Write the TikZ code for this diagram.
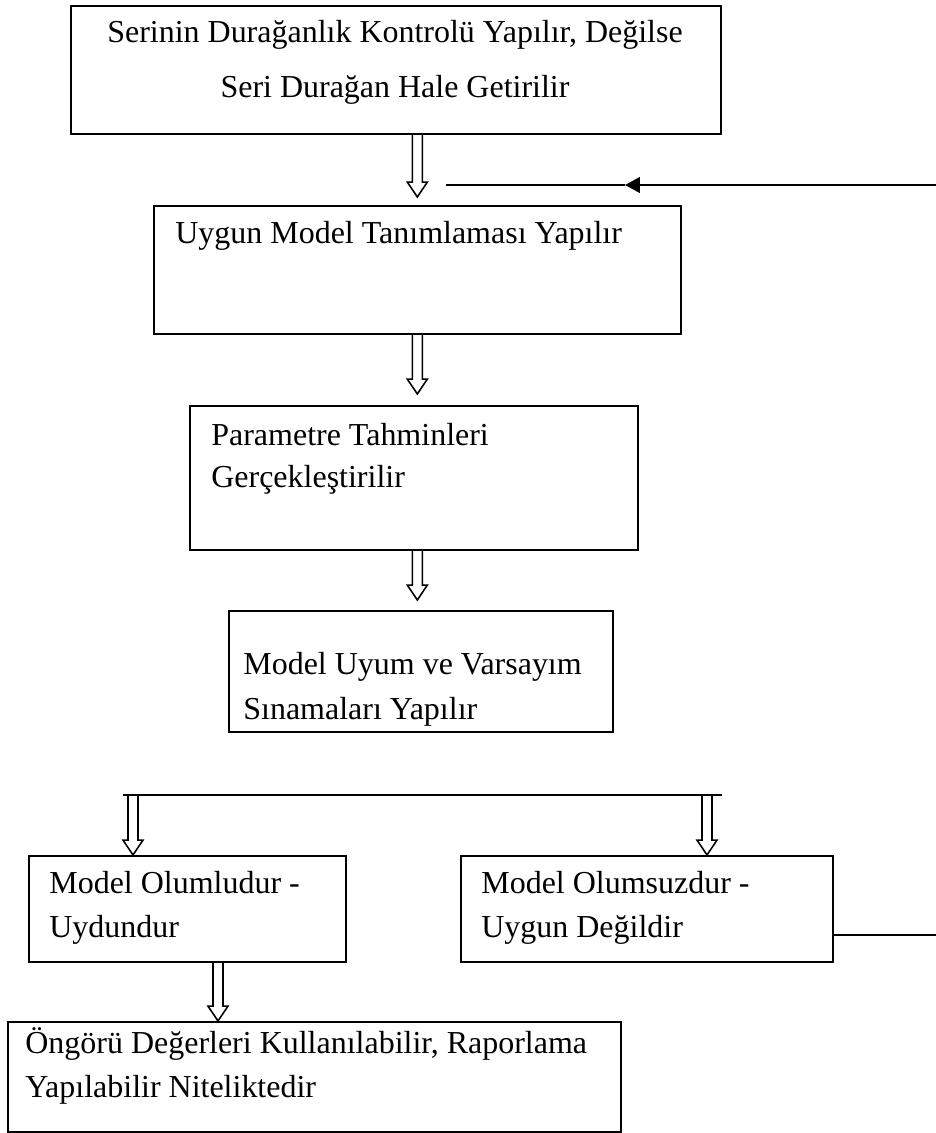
\documentclass[tikz,border=0pt]{standalone}
\usepackage{fontspec}
\setmainfont{Liberation Serif}
\usetikzlibrary{arrows.meta, positioning, calc}

% hollow block arrow pointing down, from #1 to tip #2
\newcommand{\hollowarrow}[2]{%
  \draw[hollow] let \p1=(#1), \p2=(#2) in
    (\x1-2.85pt,\y1) -- (\x1-2.85pt,\y2+8.5pt) -- (\x1-5.7pt,\y2+8.5pt) -- (\x1,\y2)
    -- (\x1+5.7pt,\y2+8.5pt) -- (\x1+2.85pt,\y2+8.5pt) -- (\x1+2.85pt,\y1);
}

\begin{document}
\begin{tikzpicture}[
  x=0.02cm, y=-0.02cm,
  box/.style={draw, line width=1pt, anchor=north west, inner sep=0pt},
  txt/.style={anchor=base west, inner sep=0pt, align=left},
  hollow/.style={line width=0.9pt, line join=miter},
  link/.style={line width=1pt}
]
\useasboundingbox (0,0) rectangle (936,1133);

% boxes
\node[box, minimum width=13cm, minimum height=2.56cm] (b1) at (70,5) {};
\node[box, minimum width=10.54cm, minimum height=2.56cm] (b2) at (153,205) {};
\node[box, minimum width=8.96cm, minimum height=2.88cm] (b3) at (189,405) {};
\node[box, minimum width=7.68cm, minimum height=2.42cm] (b4) at (228,610) {};
\node[box, minimum width=6.34cm, minimum height=2.12cm] (b5) at (28,855) {};
\node[box, minimum width=7.44cm, minimum height=2.12cm] (b6) at (460,855) {};
\node[box, minimum width=12.26cm, minimum height=2.2cm] (b7) at (7,1021) {};

% texts (base = last line)
\node[anchor=base, inner sep=0pt, align=center, font=\fontsize{18.2}{31.3}\selectfont] (t1) at (395,97)
  {Serinin Durağanlık Kontrolü Yapılır, Değilse\\Seri Durağan Hale Getirilir};
\node[txt, font=\fontsize{18.2}{25}\selectfont] (t2) at ($(b2.north west)+(22,38)$) {Uygun Model Tanımlaması Yapılır};
\node[txt, font=\fontsize{18.2}{23.9}\selectfont] (t3) at ($(b3.north west)+(22,82)$) {Parametre Tahminleri\\Gerçekleştirilir};
\node[txt, font=\fontsize{18.2}{25.6}\selectfont] (t4) at ($(b4.north west)+(15,109)$) {Model Uyum ve Varsayım\\Sınamaları Yapılır};
\node[txt, font=\fontsize{18.2}{25}\selectfont] (t5) at ($(b5.north west)+(21,82)$) {Model Olumludur -\\Uydundur};
\node[txt, font=\fontsize{18.2}{25}\selectfont] (t6) at ($(b6.north west)+(21,82)$) {Model Olumsuzdur -\\Uygun Değildir};
\node[txt, font=\fontsize{18.2}{25}\selectfont] (t7) at ($(b7.north west)+(18,76)$) {Öngörü Değerleri Kullanılabilir, Raporlama\\Yapılabilir Niteliktedir};

% main chain
\hollowarrow{b2.north |- b1.south}{$(b2.north)+(0,-8)$}
\hollowarrow{b2.south}{$(b2.south |- b3.north)+(0,-11)$}
\hollowarrow{b2.south |- b3.south}{$(b2.south |- b4.north)+(0,-10)$}

% split line
\coordinate (sl) at (123,795);
\coordinate (sr) at (722,795);
\coordinate (s5) at (133,795);
\coordinate (s6) at (707,795);
\draw[link] (sl) -- (sr);
\hollowarrow{s5}{s5 |- b5.north}
\hollowarrow{s6}{s6 |- b6.north}

\coordinate (s7) at (218,961);
\hollowarrow{s7}{s7 |- b7.north}

% feedback
\coordinate (fbR) at (936,185);
\coordinate (fbT) at (625,185);
\coordinate (fbL) at (446,185);
\draw[link, -{Triangle[length=8.5pt, width=9pt]}] (fbR) -- (fbT);
\draw[link] (fbT) -- (fbL);
\coordinate (ex) at (936,935);
\draw[link] (b6.east |- ex) -- (ex);
\end{tikzpicture}
\end{document}
